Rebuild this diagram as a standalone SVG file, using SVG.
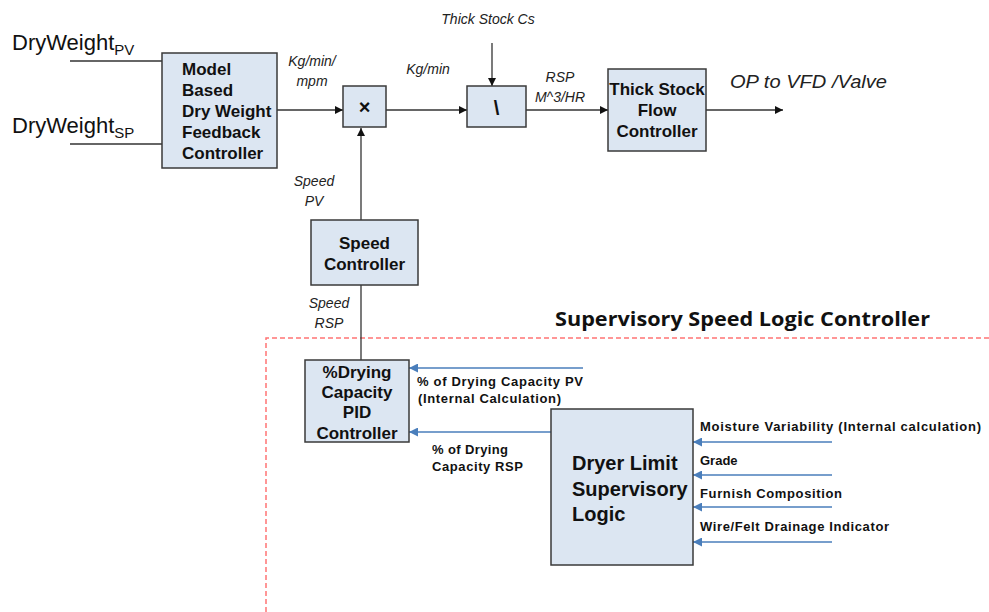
<svg xmlns="http://www.w3.org/2000/svg" width="989" height="612" viewBox="0 0 989 612">
<defs>
<style>
.box{fill:#dce6f2;stroke:#3a3a3a;stroke-width:1.5}
.ln{stroke:#333;stroke-width:1.3;fill:none}
.bl{stroke:#4a7ebb;stroke-width:1.3;fill:none}
.bt{font-family:"Liberation Sans",Arial,sans-serif;font-weight:bold;font-size:17px;fill:#111}
.it{font-family:"Liberation Sans",Arial,sans-serif;font-style:italic;font-size:14px;fill:#222}
.sm{font-family:"Liberation Sans",Arial,sans-serif;font-weight:bold;font-size:13px;fill:#111}
.dw{font-family:"Liberation Sans",Arial,sans-serif;font-size:22px;fill:#111}
.big{font-size:20px}
.op{font-size:18px}
</style>
<marker id="ah" viewBox="0 0 10 10" refX="10" refY="5" markerWidth="8" markerHeight="8" markerUnits="userSpaceOnUse" orient="auto"><path d="M0,0L10,5L0,10z" fill="#111"/></marker>
<marker id="abl" viewBox="0 0 10 10" refX="10" refY="5" markerWidth="9" markerHeight="9" markerUnits="userSpaceOnUse" orient="auto"><path d="M0,0L10,5L0,10z" fill="#4a7ebb"/></marker>
</defs>
<rect width="989" height="612" fill="#fff"/>

<g id="boundary">
<path d="M266,612V338H989" fill="none" stroke="#ff5a5a" stroke-width="1.5" stroke-dasharray="5,3" opacity="0.85"/>
<text x="555" y="326" font-family="'Open Sans','Liberation Sans',sans-serif" font-weight="bold" font-size="20" textLength="375" lengthAdjust="spacingAndGlyphs" fill="#111">Supervisory Speed Logic Controller</text>
</g>

<g id="connectors">
<path class="ln" d="M70,61H162"/>
<path class="ln" d="M70,144H162"/>
<path class="ln" d="M277,110H343" marker-end="url(#ah)"/>
<path class="ln" d="M386,110H467" marker-end="url(#ah)"/>
<path class="ln" d="M492,43V86" marker-end="url(#ah)"/>
<path class="ln" d="M526,110H608" marker-end="url(#ah)"/>
<path class="ln" d="M706,110H783" marker-end="url(#ah)"/>
<path class="ln" d="M361,220V128" marker-end="url(#ah)"/>
<path class="ln" d="M361,360V285"/>
<path class="bl" d="M583,368H409" marker-end="url(#abl)"/>
<path class="bl" d="M551,432H409" marker-end="url(#abl)"/>
<path class="bl" d="M832,442H693" marker-end="url(#abl)"/>
<path class="bl" d="M832,475H693" marker-end="url(#abl)"/>
<path class="bl" d="M832,507H693" marker-end="url(#abl)"/>
<path class="bl" d="M832,542H693" marker-end="url(#abl)"/>
</g>

<g id="labels">
<text class="dw" x="12" y="50">DryWeight<tspan style="font-size:15px" dy="5">PV</tspan></text>
<text class="dw" x="12" y="133">DryWeight<tspan style="font-size:15px" dy="5">SP</tspan></text>
<text class="it" x="312" y="66" text-anchor="middle">Kg/min/</text>
<text class="it" x="312" y="86" text-anchor="middle">mpm</text>
<text class="it" x="428" y="74" text-anchor="middle">Kg/min</text>
<text class="it" x="488" y="24" text-anchor="middle">Thick Stock Cs</text>
<text class="it" x="560" y="82" text-anchor="middle">RSP</text>
<text class="it" x="560" y="102" text-anchor="middle">M^3/HR</text>
<text class="it op" x="730" y="88" textLength="157" lengthAdjust="spacingAndGlyphs">OP to VFD /Valve</text>
<text class="it" x="314" y="186" text-anchor="middle">Speed</text>
<text class="it" x="314" y="206" text-anchor="middle">PV</text>
<text class="it" x="329" y="308" text-anchor="middle">Speed</text>
<text class="it" x="329" y="328" text-anchor="middle">RSP</text>
<text class="sm" x="417" y="386" textLength="166" lengthAdjust="spacing">% of Drying Capacity PV</text>
<text class="sm" x="418" y="403" textLength="143" lengthAdjust="spacing">(Internal Calculation)</text>
<text class="sm" x="432" y="454" textLength="76" lengthAdjust="spacing">% of Drying</text>
<text class="sm" x="432" y="471" textLength="91" lengthAdjust="spacing">Capacity RSP</text>
<text class="sm" x="700" y="431" textLength="281" lengthAdjust="spacing">Moisture  Variability (Internal calculation)</text>
<text class="sm" x="700" y="465">Grade</text>
<text class="sm" x="700" y="498" textLength="142" lengthAdjust="spacing">Furnish Composition</text>
<text class="sm" x="700" y="531" textLength="189" lengthAdjust="spacing">Wire/Felt Drainage Indicator</text>
</g>

<g id="model">
<rect class="box" x="162" y="53" width="115" height="115"/>
<text class="bt" x="182" y="75">Model</text>
<text class="bt" x="182" y="96">Based</text>
<text class="bt" x="182" y="117">Dry Weight</text>
<text class="bt" x="182" y="138">Feedback</text>
<text class="bt" x="182" y="159">Controller</text>
</g>

<g id="multiply">
<rect class="box" x="343" y="86" width="43" height="41"/>
<text class="bt big" x="364.5" y="114" text-anchor="middle">×</text>
</g>

<g id="divide">
<rect class="box" x="467" y="86" width="59" height="41"/>
<text class="bt big" x="496.5" y="115" text-anchor="middle">\</text>
</g>

<g id="thickstock">
<rect class="box" x="608" y="69" width="98" height="82"/>
<text class="bt" x="657" y="95" text-anchor="middle">Thick Stock</text>
<text class="bt" x="657" y="116" text-anchor="middle">Flow</text>
<text class="bt" x="657" y="137" text-anchor="middle">Controller</text>
</g>

<g id="speed">
<rect class="box" x="311" y="220" width="107" height="65"/>
<text class="bt" x="364.5" y="249" text-anchor="middle">Speed</text>
<text class="bt" x="364.5" y="270" text-anchor="middle">Controller</text>
</g>

<g id="pid">
<rect class="box" x="305" y="360" width="104" height="82"/>
<text class="bt" x="357" y="378" text-anchor="middle">%Drying</text>
<text class="bt" x="357" y="398" text-anchor="middle">Capacity</text>
<text class="bt" x="357" y="418" text-anchor="middle">PID</text>
<text class="bt" x="357" y="439" text-anchor="middle">Controller</text>
</g>

<g id="dryer">
<rect class="box" x="551" y="409" width="142" height="156"/>
<text class="bt big" x="572" y="470">Dryer Limit</text>
<text class="bt big" x="572" y="496">Supervisory</text>
<text class="bt big" x="572" y="521">Logic</text>
</g>
</svg>
